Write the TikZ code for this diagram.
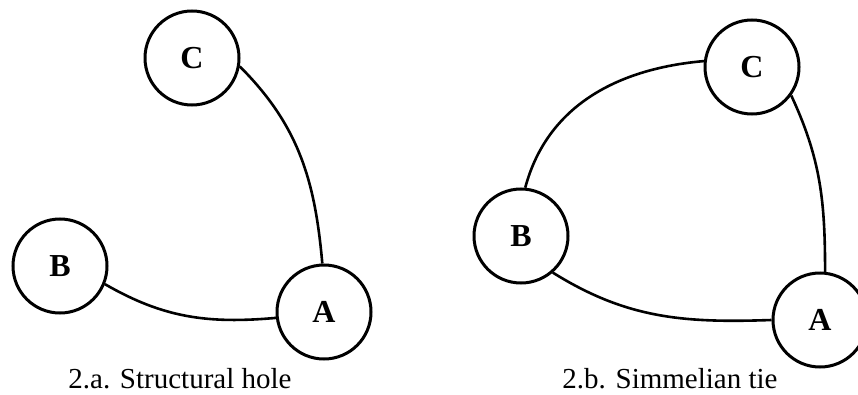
\documentclass[tikz,border=0pt]{standalone}
\usepackage{fontspec}
\setmainfont{Liberation Serif}

\begin{document}
\begin{tikzpicture}[
  x=1pt,y=1pt,
  actor/.style={draw,circle,line width=3pt,minimum size=94pt,inner sep=0pt,
    font=\fontsize{32}{36}\selectfont\bfseries},
  tie/.style={line width=2.6pt},
  caption/.style={anchor=base,font=\fontsize{29}{32}\selectfont}
]
  \useasboundingbox (0,0) rectangle (858,394);

  % 2.a: structural hole
  \node[actor] (hC) at (192,336) {C};
  \node[actor] (hB) at (60,128) {B};
  \node[actor] (hA) at (324,82) {A};
  \draw[tie] (hC.-10) to[out=-45,in=95] (hA.92);
  \draw[tie] (hB.-22) to[out=-30,in=185] (hA.187);
  \node[caption] (hcap) at (180,6) {2.a. Structural hole};

  % 2.b: simmelian tie
  \node[actor] (sC) at (752,327) {C};
  \node[actor] (sB) at (521,158) {B};
  \node[actor] (sA) at (820,74) {A};
  \draw[tie] (sB.85) to[out=75,in=185] (sC.173);
  \draw[tie] (sC.-36) to[out=-65,in=90] (sA.84);
  \draw[tie] (sB.-49) to[out=-32,in=182] (sA.180);
  \node[caption] (scap) at (670,6) {2.b. Simmelian tie};
\end{tikzpicture}
\end{document}
